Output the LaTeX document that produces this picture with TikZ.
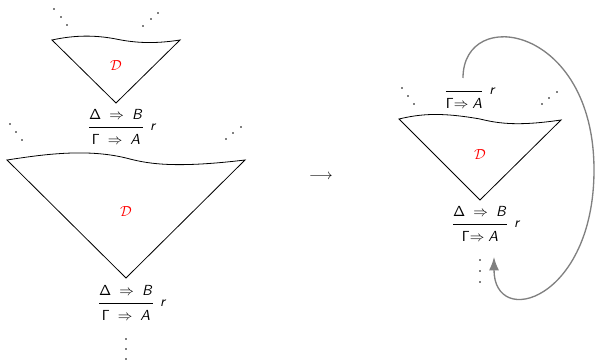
\documentclass[tikz,border=0pt]{standalone}
\usepackage{amsmath}
\usepackage{xcolor}
\usetikzlibrary{positioning, arrows.meta}

\DeclareMathAlphabet{\mathsfit}{OT1}{cmss}{m}{sl}
\renewcommand{\arraystretch}{1.4}
% sequent rule: premise over conclusion
\newcommand{\sqrule}[2]{\begin{tabular}{@{}c@{}}$#1$\\\hline$#2$\end{tabular}}
\newcommand{\sqconc}[1]{\begin{tabular}{@{}c@{}}\hline$#1$\end{tabular}}
\newcommand{\sDB}{\mathsf{\Delta}\;\Rightarrow\;\mathsfit{B}}
\newcommand{\sGA}{\mathsf{\Gamma}\;\Rightarrow\;\mathsfit{A}}
\newcommand{\sGAt}{\mathsf{\Gamma}{\Rightarrow}\;\mathsfit{A}}

\begin{document}
\begin{tikzpicture}[
    x=0.75pt, y=-0.75pt,
    font=\fontsize{11}{13}\selectfont,
    tri/.style={line width=0.6pt, line join=miter},
    seqn/.style={inner sep=0pt},
    rlab/.style={inner sep=0pt, anchor=west},
    der/.style={red, inner sep=0pt},
    back/.style={gray, line width=1pt, -{Latex[length=10pt, width=7.5pt]}},
  ]
  \useasboundingbox (0,0) rectangle (597,363);

  % left: upper derivation
  \foreach \p in {(54,9),(61,17),(67,25),(158,13),(151,19),(143,26)}
    \fill \p circle (0.6pt);
  \draw[tri] (52,40) .. controls (75,35) and (95,35) .. (116,39)
    .. controls (135,43) and (155,44) .. (180,40) -- (116,103) -- cycle;
  \node[der] (d1) at (116,66) {$\mathcal{D}$};
  \node[seqn] (s1) at (116,127) {\sqrule{\sDB}{\sGA}};
  \node[rlab, right=5pt of s1] (r1) {$\mathsfit{r}$};

  % left: lower derivation
  \foreach \p in {(10,124),(16,132),(22,140),(241,127),(233,133),(226,139)}
    \fill \p circle (0.6pt);
  \draw[tri] (7,160) .. controls (40,155) and (85,148) .. (126,158)
    .. controls (145,163) and (170,169) .. (245,160) -- (126,278) -- cycle;
  \node[der] (d2) at (126,212) {$\mathcal{D}$};
  \node[seqn] (s2) at (126,303) {\sqrule{\sDB}{\sGA}};
  \node[rlab, right=5pt of s2] (r2) {$\mathsfit{r}$};
  \foreach \y in {339,349,359}
    \fill (126,\y) circle (0.6pt);

  \node (to) at (321,177) {$\longrightarrow$};

  % right: folded derivation
  \foreach \p in {(402,88),(408,96),(414,104),(557,92),(549,98),(542,104)}
    \fill \p circle (0.6pt);
  \node[seqn, anchor=north] (s3) at (464,91) {\sqconc{\sGAt}};
  \node[rlab, right=5pt of s3.north east] (r3) {$\mathsfit{r}$};
  \draw[tri] (399,119) .. controls (420,114) and (440,112) .. (480,119)
    .. controls (500,124) and (520,126) .. (561,120) -- (480,200) -- cycle;
  \node[der] (d3) at (480,155) {$\mathcal{D}$};
  \node[seqn] (s4) at (480,224) {\sqrule{\sDB}{\sGAt}};
  \node[rlab, right=5pt of s4] (r4) {$\mathsfit{r}$};
  \foreach \y in {260,271,282}
    \fill (480,\y) circle (0.6pt);

  % loop back
  \coordinate (lpA) at (463,78);
  \coordinate (lpB) at (494,257);
  \draw[back] (lpA) .. controls (463,5) and (594,25) .. (594,170)
    .. controls (594,300) and (494,330) .. (lpB);
\end{tikzpicture}
\end{document}
